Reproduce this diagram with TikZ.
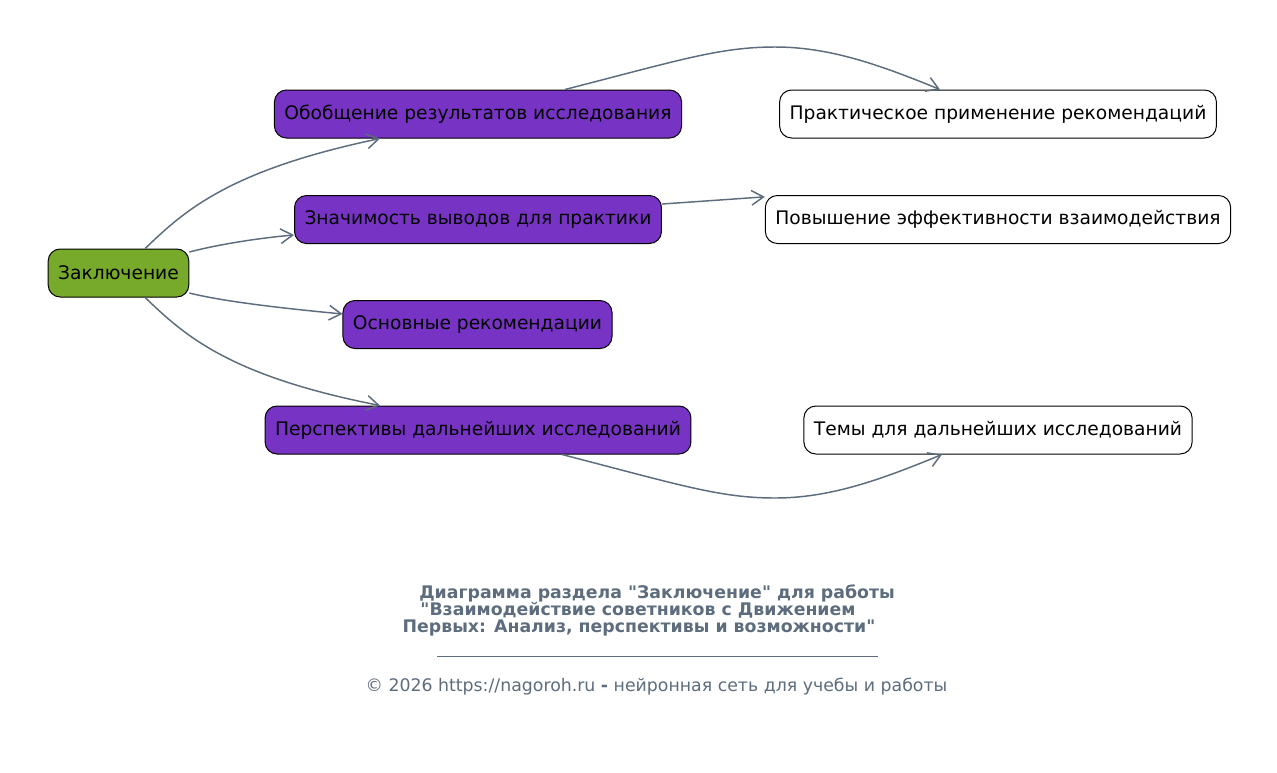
\documentclass[tikz,border=0pt]{standalone}
\usepackage{fontspec}
\setmainfont{DejaVu Sans}
\usetikzlibrary{arrows.meta}
\definecolor{slate}{HTML}{5D6D7E}
\definecolor{leafgreen}{HTML}{77AA2A}
\definecolor{topicpurple}{HTML}{7733C4}
\tikzset{
  box/.style={draw=black,rounded corners=9pt,minimum height=36pt,inner xsep=7.5pt,
    font=\fontsize{14}{17}\selectfont,line width=0.75pt},
  rootbox/.style={box,fill=leafgreen},
  mainbox/.style={box,fill=topicpurple},
  subbox/.style={box,fill=white},
  link/.style={draw=slate,line width=1.1pt,-{Straight Barb[length=9pt,width=11pt]}},
  caption/.style={text=slate,font=\fontsize{13}{15}\selectfont\bfseries,inner sep=0pt}
}
\begin{document}
\begin{tikzpicture}[x=0.75pt,y=-0.75pt]
% page
\useasboundingbox[fill=white] (0,0) rectangle (1277,772);

% root
\node[rootbox] (concl) at (118.5,273) {Заключение};

% main topics
\node[mainbox] (gen) at (478,114) {Обобщение результатов исследования};
\node[mainbox] (sig) at (478,219.5) {Значимость выводов для практики};
\node[mainbox] (recs) at (477.5,324.5) {Основные рекомендации};
\node[mainbox] (persp) at (478,430) {Перспективы дальнейших исследований};

% subtopics
\node[subbox] (prac) at (998,114) {Практическое применение рекомендаций};
\node[subbox] (incr) at (998,219.5) {Повышение эффективности взаимодействия};
\node[subbox] (themes) at (998,430) {Темы для дальнейших исследований};

% links from root
\draw[link] ([xshift=20pt]concl.north) .. controls (185,210) and (230,170) .. ([xshift=-73.5pt]gen.south);
\draw[link] ([yshift=15.75pt]concl.east) .. controls (220,244) and (260,238) .. ([yshift=-11.6pt]sig.west);
\draw[link] ([yshift=-15pt]concl.east) .. controls (225,302) and (290,309) .. ([yshift=7.9pt]recs.west);
\draw[link] ([xshift=20pt]concl.south) .. controls (185,336) and (230,376) .. ([xshift=-73.5pt]persp.north);

% links to subtopics
\draw[link] ([xshift=65.25pt]gen.north) .. controls (680,60) and (720,47) .. (775,47)
  .. controls (830,47) and (880,65) .. ([xshift=-43.5pt]prac.north);
\draw[link] ([yshift=11.6pt]sig.east) -- ([yshift=17pt]incr.west);
\draw[link] ([xshift=63pt]persp.south) .. controls (680,485) and (720,498) .. (775,498)
  .. controls (830,498) and (880,480) .. ([xshift=-42pt]themes.south);

% caption
\node[caption] (cap1) at (657,593) {Диаграмма раздела \textquotedbl Заключение\textquotedbl{} для работы};
\node[caption] (cap2) at (638,610) {\textquotedbl Взаимодействие советников с Движением};
\node[caption] (cap3) at (639,628) {Первых: Анализ, перспективы и возможности\textquotedbl};
\coordinate (rulel) at (437,656);
\coordinate (ruler) at (878,656);
\draw[slate,line width=0.6pt] (rulel) -- (ruler);
\node[text=slate,font=\fontsize{13}{15}\selectfont,inner sep=0pt] (credit) at (656.5,687)
  {© 2026 https://nagoroh.ru \textbf{-} нейронная сеть для учебы и работы};
\end{tikzpicture}
\end{document}
